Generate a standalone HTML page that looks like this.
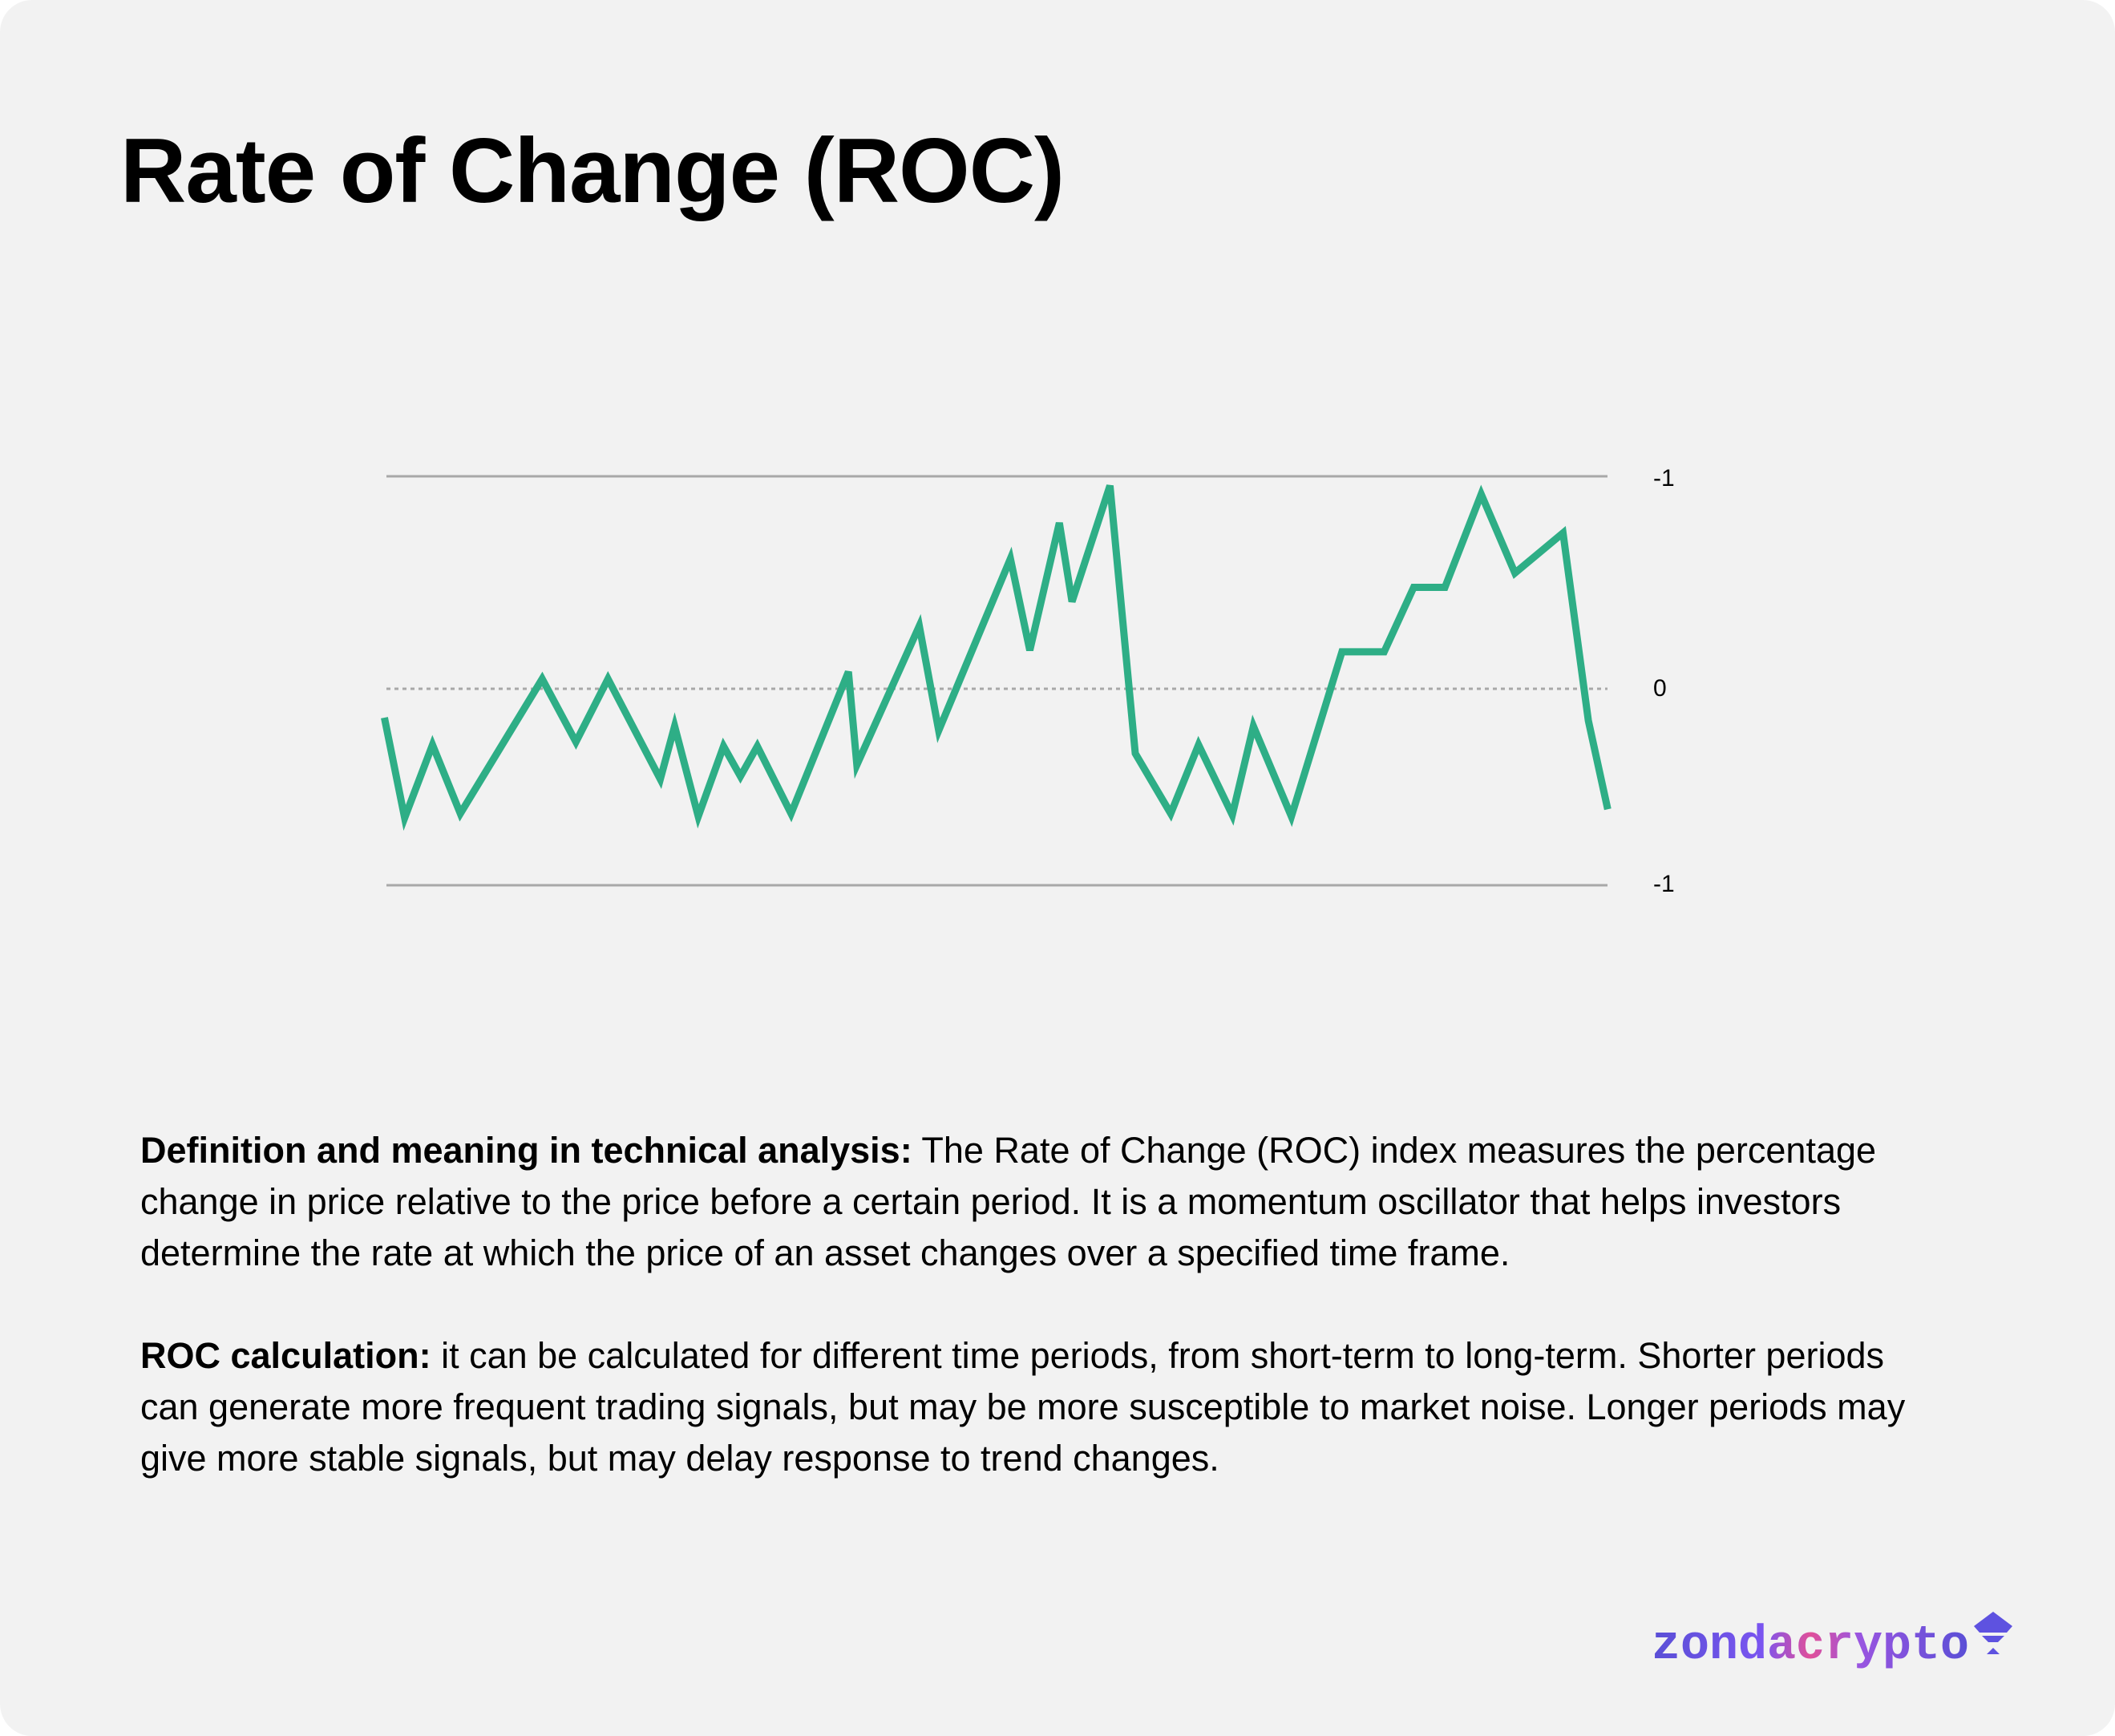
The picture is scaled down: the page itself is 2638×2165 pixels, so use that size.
<!DOCTYPE html>
<html><head><meta charset="utf-8"><style>
html,body{margin:0;padding:0;background:#fff;}
.card{position:relative;width:2638px;height:2165px;background:#f2f2f2;border-radius:40px;overflow:hidden;font-family:"Liberation Sans",sans-serif;color:#000;}
h1{position:absolute;left:150px;top:148px;margin:0;font-size:114px;font-weight:bold;letter-spacing:-1px;}
.p{position:absolute;left:175px;font-size:45px;line-height:64px;white-space:nowrap;}
.lab{position:absolute;font-size:30px;}
</style></head><body><div class="card">
<h1>Rate of Change (ROC)</h1>
<svg width="2638" height="2165" style="position:absolute;left:0;top:0">
<line x1="482" y1="594" x2="2005" y2="594" stroke="#a8a8a8" stroke-width="3"/>
<line x1="482" y1="1104" x2="2005" y2="1104" stroke="#a8a8a8" stroke-width="3"/>
<line x1="482" y1="859" x2="2005" y2="859" stroke="#a8a8a8" stroke-width="3" stroke-dasharray="5,5"/>
<g transform="translate(450,570) scale(1.0523,0.3571)">
<polyline fill="none" stroke="#2eae86" stroke-width="9" vector-effect="non-scaling-stroke" stroke-linejoin="miter" points="28,910 52,1260 85,1005 118,1245 215,775 255,995 293,775 355,1125 372,940 400,1255 430,1010 450,1115 470,1010 510,1245 578,750 588,1075 662,590 685,955 770,355 793,675 828,230 843,505 888,100 918,1035 960,1245 993,1005 1033,1250 1058,940 1103,1255 1163,680 1213,680 1248,455 1285,455 1328,130 1368,405 1425,265 1455,920 1478,1230"/>
</g>
<defs><linearGradient id="g" x1="0" x2="1" y1="0" y2="0">
<stop offset="0" stop-color="#5a4fd6"/><stop offset="0.35" stop-color="#7a55f0"/><stop offset="0.5" stop-color="#e0509a"/><stop offset="0.65" stop-color="#9a55e0"/><stop offset="1" stop-color="#5a4fd6"/></linearGradient></defs>
<text x="2060" y="2068" font-family="Liberation Mono, monospace" font-weight="bold" font-size="60" fill="url(#g)">zondacrypto</text>
<path d="M2462 2028 L2486 2010 L2510 2028 L2503 2036 L2469 2036 Z M2472 2040 L2500 2040 L2492 2048 L2480 2048 Z M2478 2063 L2494 2063 L2486 2055 Z" fill="#5e52e0"/>
</svg>
<div class="lab" style="left:2062px;top:580px">-1</div>
<div class="lab" style="left:2062px;top:842px">0</div>
<div class="lab" style="left:2062px;top:1086px">-1</div>
<div class="p" style="top:1403px"><b>Definition and meaning in technical analysis:</b> The Rate of Change (ROC) index measures the percentage<br>change in price relative to the price before a certain period. It is a momentum oscillator that helps investors<br>determine the rate at which the price of an asset changes over a specified time frame.</div>
<div class="p" style="top:1659px"><b>ROC calculation:</b> it can be calculated for different time periods, from short-term to long-term. Shorter periods<br>can generate more frequent trading signals, but may be more susceptible to market noise. Longer periods may<br>give more stable signals, but may delay response to trend changes.</div>
</div></body></html>
